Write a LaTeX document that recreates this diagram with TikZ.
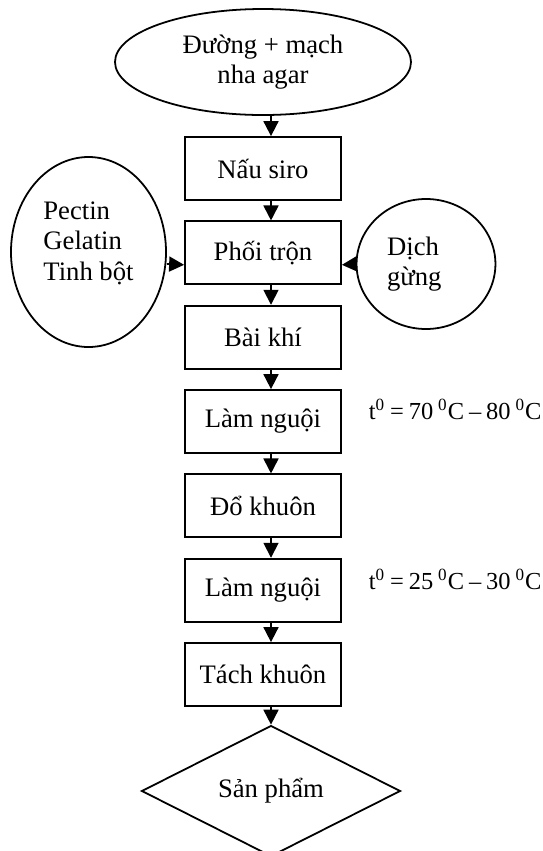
\documentclass[tikz,border=0pt]{standalone}
\usepackage{fontspec}
\setmainfont{Liberation Serif}
\usetikzlibrary{arrows.meta,shapes.geometric}

\begin{document}
\begin{tikzpicture}[
                    x=0.45pt,
                    y=-0.45pt,
                    font=\fontsize{12}{13.8}\selectfont,
                    line width=0.8pt,
                    >={Triangle[length=6.75pt,width=6.75pt]},
                    node distance=37.95pt
                ]
                \tikzstyle{process}=[draw,rectangle,minimum width=70.2pt,minimum height=28.35pt,inner sep=2pt]
                \tikzstyle{source}=[draw,ellipse,inner sep=0pt]
                \tikzstyle{note}=[anchor=base west,inner sep=0pt,font={\fontsize{11}{13}\selectfont\spaceskip=2.2pt\relax}]

                \useasboundingbox (0,0) rectangle (542,851);

                \node[source,minimum width=133.2pt,minimum height=47.7pt,align=center]
                                              (goc)  at (263,62)    {Đường + mạch\\nha agar} ;
                \node[process]                (nau)  at (263,168.5) {Nấu siro} ;
                \node[process]                (phoi) [below of=nau]  {Phối trộn} ;
                \node[process]                (bai)  [below of=phoi] {Bài khí} ;
                \node[process]                (lam1) [below of=bai]  {Làm nguội} ;
                \node[process]                (do)   [below of=lam1] {Đổ khuôn} ;
                \node[process]                (lam2) [below of=do]   {Làm nguội} ;
                \node[process]                (tach) [below of=lam2] {Tách khuôn} ;
                \node[draw,diamond,inner sep=0pt,minimum width=116.5pt,minimum height=56.7pt]
                                              (sp)   at (271,791)   {Sản phẩm} ;

                \node[source,minimum width=69.75pt,minimum height=85.5pt,align=left,text depth=10pt]
                                              (phu)  at (88.5,252)  {Pectin\\Gelatin\\Tinh bột} ;
                \node[source,minimum width=62.5pt,minimum height=58.5pt,align=left,text width=35pt]
                                              (dich) at (426,264)   {Dịch\\gừng} ;

                \node[note] (nhiet1) at (368,419) {t\textsuperscript{0} = 70 \textsuperscript{0}C – 80 \textsuperscript{0}C} ;
                \node[note] (nhiet2) at (368,589) {t\textsuperscript{0} = 25 \textsuperscript{0}C – 30 \textsuperscript{0}C} ;

                \foreach \a/\b in {goc/nau,nau/phoi,phoi/bai,bai/lam1,lam1/do,do/lam2,lam2/tach}
                    \draw[->] ([xshift=3.6pt]\a.south) -- ([xshift=3.6pt]\b.north) ;
                \draw[->] ([xshift=3.6pt]tach.south) -- (sp.north) ;
                \draw[->] ([yshift=-5.4pt]phu.east) -- ([yshift=-5.4pt]phoi.west) ;
                \draw[->] (dich.west) -- ([yshift=-5.4pt]phoi.east) ;
            \end{tikzpicture}
\end{document}
